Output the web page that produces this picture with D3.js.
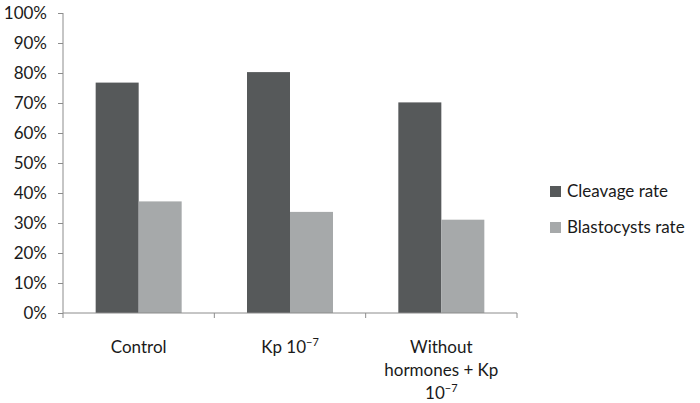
<!DOCTYPE html>
<html>
<head>
<meta charset="utf-8">
<script src="https://cdn.jsdelivr.net/npm/d3@7"></script>
<style>
  body { margin: 0; background: #fff; }
  text { font-family: Lato, "Open Sans", sans-serif; fill: #1a1a1a; }
</style>
</head>
<body>
<div id="main_svg"></div>
<script>
// data
var categories = ["Control", "Kp", "Without"];
var seriesNames = ["Cleavage rate", "Blastocysts rate"];
var cleavage = [0.768, 0.803, 0.702];
var blastocysts = [0.372, 0.337, 0.311];
var yTicks = [0, 0.1, 0.2, 0.3, 0.4, 0.5, 0.6, 0.7, 0.8, 0.9, 1.0];
var colors = ["#56595a", "#a6a9aa"];

// set the dimensions and margins of the graph
var margin = {top: 13, right: 183, bottom: 90, left: 63},
    width = 700 - margin.left - margin.right,
    height = 403 - margin.top - margin.bottom;

var svg = d3.select("#main_svg").append("svg")
    .attr("width", 700)
    .attr("height", 403)
    .append("g")
    .attr("transform", "translate(" + margin.left + "," + margin.top + ")");

// set the ranges
var x = d3.scaleBand().domain(categories).range([0, width]);
var x1 = d3.scaleBand().domain([0, 1]).range([0, 86]);
var y = d3.scaleLinear().domain([0, 1]).range([height, 0]);

var rows = categories.map(function (c, i) {
    return {cat: c, vals: [cleavage[i], blastocysts[i]]};
});

// bars
var groups = svg.selectAll(".grp")
    .data(rows)
    .enter().append("g")
    .attr("transform", function (d) {
        return "translate(" + (x(d.cat) + (x.bandwidth() - 86) / 2) + ",0)";
    });

groups.selectAll("rect")
    .data(function (d) { return d.vals; })
    .enter().append("rect")
    .attr("x", function (d, i) { return x1(i); })
    .attr("width", x1.bandwidth())
    .attr("y", function (d) { return y(d); })
    .attr("height", function (d) { return height - y(d); })
    .attr("fill", function (d, i) { return colors[i]; });

// y axis
var yAxis = svg.append("g")
    .call(d3.axisLeft(y).tickValues(yTicks).tickFormat(d3.format(".0%")).tickSizeInner(5).tickSizeOuter(0).tickPadding(11));
yAxis.selectAll("text").style("font-size", "17px").style("fill", "#1a1a1a").style("font-family", "Lato");
yAxis.selectAll("path, line").attr("stroke", "#8c8c8c");
yAxis.select(".domain").attr("d", "M0," + height + "V0");

// x axis: ticks at category boundaries
var xAxis = svg.append("g")
    .attr("transform", "translate(0," + height + ")");
xAxis.append("line")
    .attr("x1", 0).attr("x2", width)
    .attr("stroke", "#8c8c8c");
xAxis.selectAll(".xt")
    .data(categories.concat(["end"]))
    .enter().append("line")
    .attr("x1", function (d, i) { return i * x.bandwidth(); })
    .attr("x2", function (d, i) { return i * x.bandwidth(); })
    .attr("y1", 0).attr("y2", 5)
    .attr("stroke", "#8c8c8c");

// category labels
function label(cat, lines) {
    var cx = x(cat) + x.bandwidth() / 2;
    lines.forEach(function (ln, j) {
        var t = svg.append("text")
            .attr("x", cx)
            .attr("y", height + 40 + j * 23)
            .attr("text-anchor", "middle")
            .style("font-size", "17px");
        t.append("tspan").text(ln[0]);
        if (ln[1]) {
            t.append("tspan")
                .attr("dy", -7)
                .style("font-size", "11px")
                .text(ln[1]);
        }
    });
}
label("Control", [["Control"]]);
label("Kp", [["Kp 10", "\u22127"]]);
label("Without", [["Without"], ["hormones + Kp"], ["10", "\u22127"]]);

// legend
var legend = svg.selectAll(".legend")
    .data(seriesNames)
    .enter().append("g")
    .attr("transform", function (d, i) {
        return "translate(" + (550 - margin.left) + "," + (186 - margin.top + i * 36) + ")";
    });
legend.append("rect")
    .attr("width", 11).attr("height", 11)
    .attr("fill", function (d, i) { return colors[i]; });
legend.append("text")
    .attr("x", 17).attr("y", 11)
    .style("font-size", "17px")
    .text(function (d) { return d; });
</script>
</body>
</html>
